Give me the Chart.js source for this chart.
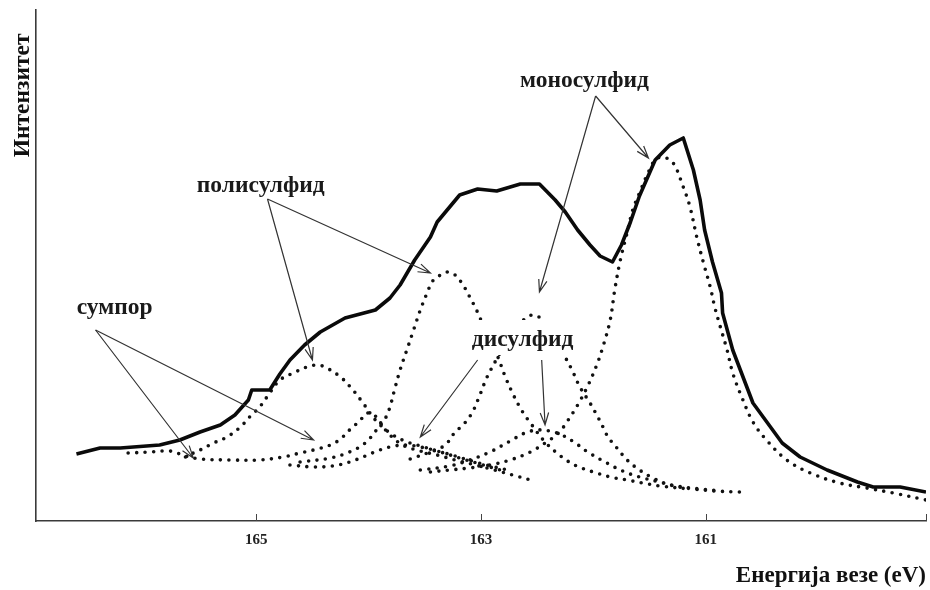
<!DOCTYPE html>
<html><head><meta charset="utf-8">
<script src="https://cdn.jsdelivr.net/npm/chart.js@4.4.0/dist/chart.umd.min.js"></script>
<style>html,body{margin:0;padding:0;background:#fff;}#wrap{width:930px;height:590px;}</style>
</head><body><div id="wrap"><canvas id="c" width="930" height="590"></canvas></div>
<script>
// Binding energy (eV) and intensity (a.u.)
const xTicks = [165, 163, 161];
const xTitle = 'Енергија везе (eV)';
const yTitle = 'Интензитет';
const totalE = [166.60,166.39,166.21,165.86,165.68,165.50,165.32,165.19,165.07,165.04,164.88,164.79,164.70,164.57,164.43,164.21,163.94,163.81,163.72,163.59,163.45,163.39,163.19,163.03,162.86,162.65,162.48,162.34,162.25,162.14,162.03,161.94,161.83,161.75,161.67,161.59,161.45,161.32,161.20,161.11,161.05,161.01,160.94,160.86,160.85,160.76,160.58,160.32,160.16,159.92,159.65,159.51,159.27,159.04];
const totalI = [67,73,73,76,81,89,96,106,121,131,131,147,161,176,189,203,211,223,236,261,284,299,326,332,330,337,337,321,309,291,276,265,259,276,299,325,361,376,383,351,321,291,259,228,208,171,118,78,64,51,39,34,34,29];

const mono32E = [163.45,163.28,163.10,162.92,162.74,162.56,162.43,162.31,162.23,162.14,162.05,161.97,161.91,161.85,161.81,161.76,161.70,161.65,161.59,161.51,161.45,161.38,161.29,161.20,161.14,161.08,161.02,160.96,160.92,160.87,160.81,160.76,160.68,160.58,160.46,160.28,160.07,159.81,159.57,159.33,159.04];
const mono32I = [49,51,53,56,61,69,78,88,100,116,135,156,176,201,231,261,288,311,328,349,361,364,358,334,314,284,258,234,214,194,171,148,124,99,81,61,48,38,33,28,21];

const mono12E = [163.63,163.45,163.36,163.30,163.23,163.16,163.08,163.01,162.95,162.85,162.74,162.65,162.54,162.43,162.34,162.27,162.19,162.12,162.03,161.97,161.91,161.87,161.79,161.70,161.59,161.47,161.32,161.11,160.92,160.70];
const mono12I = [62,69,73,78,89,96,108,126,143,164,184,198,206,199,184,168,151,134,118,106,93,84,73,61,51,43,36,32,30,29];

const poly32E = [164.61,164.34,164.17,164.03,163.93,163.85,163.81,163.77,163.72,163.66,163.60,163.54,163.48,163.43,163.36,163.30,163.23,163.16,163.10,163.04,162.95,162.85,162.79,162.72,162.64,162.56,162.43,162.28,162.15,162.00,161.85,161.70,161.56,161.41,161.14];
const poly32I = [59,63,69,78,91,103,114,131,151,171,191,211,228,240,246,249,246,236,224,211,188,164,146,128,111,98,79,64,55,49,44,41,38,35,32];

const poly12E = [165.63,165.56,165.50,165.38,165.26,165.14,165.06,164.97,164.88,164.79,164.67,164.55,164.46,164.39,164.25,164.14,164.05,163.94,163.81,163.68,163.54,163.36,163.19,163.01,162.83];
const poly12I = [64,68,71,78,84,94,104,114,128,141,148,154,156,154,144,131,118,101,88,80,75,69,63,57,51];

const sulfE = [166.14,165.94,165.77,165.63,165.50,165.23,164.97,164.76,164.61,164.49,164.34,164.25,164.17,164.08,164.01,163.93,163.87,163.81,163.74,163.66,163.54,163.39,163.23,163.05,162.88,162.72,162.56];
const sulfI = [68,69,70,65,62,61,61,64,68,71,76,82,91,100,108,104,94,86,79,74,70,66,61,56,51,46,41];

const di12E = [164.70,164.49,164.32,164.17,164.03,163.90,163.77,163.65,163.54,163.39,163.23,163.05,162.88,162.72];
const di12I = [56,54,55,59,65,71,75,76,74,70,65,59,54,50];

const di32E = [163.54,163.28,163.10,162.92,162.74,162.61,162.50,162.39,162.28,162.16,162.05,161.88,161.74,161.59,161.41,161.26,161.05,160.87];
const di32I = [51,55,61,69,80,88,91,90,86,78,69,58,50,44,39,35,32,30];

// annotation labels (data coordinates)
const labelText = ['моносулфид','полисулфид','сумпор','дисулфид'];
const labelE = [162.08,164.96,166.26,162.63];
const labelI = [440,335,213,181];
// arrows: from -> to (data coordinates)
const arrowFromE = [161.98,161.98,164.90,164.90,166.43,166.43,163.03,162.46];
const arrowFromI = [425,425,322,322,191,191,161,161];
const arrowToE   = [162.48,161.51,164.50,163.45,165.56,164.49,163.54,162.43];
const arrowToI   = [229,363,161,248,63,81,84,96];

const SERIF = "'Liberation Serif','Times New Roman',serif";
const toPts = (E,I) => E.map((e,i) => ({x:e, y:I[i]}));
const dotted = (E,I) => ({data:toPts(E,I), showLine:true, borderColor:'#111', borderWidth:3.6,
  borderDash:[0,8.5], borderCapStyle:'round', pointRadius:0, tension:0.35, fill:false});

const annot = {
  id:'annot',
  afterDatasetsDraw(chart){
    const {ctx, scales:{x,y}, chartArea} = chart;
    ctx.save();
    ctx.font = 'bold 23.5px ' + SERIF;
    ctx.textAlign = 'center'; ctx.textBaseline = 'middle';
    labelText.forEach((t,i)=>{
      const px = x.getPixelForValue(labelE[i]), py = y.getPixelForValue(labelI[i]);
      const w = ctx.measureText(t).width;
      ctx.fillStyle = '#fff';
      ctx.fillRect(px - w/2 - 4, py - 20, w + 8, 35);
      ctx.fillStyle = '#1a1a1a';
      ctx.fillText(t, px, py);
    });
    ctx.strokeStyle = '#333'; ctx.lineWidth = 1.2;
    arrowFromE.forEach((e,i)=>{
      const x0 = x.getPixelForValue(e), y0 = y.getPixelForValue(arrowFromI[i]);
      const x1 = x.getPixelForValue(arrowToE[i]), y1 = y.getPixelForValue(arrowToI[i]);
      const a = Math.atan2(y1-y0, x1-x0), L = 13, da = 0.33;
      ctx.beginPath(); ctx.moveTo(x0,y0); ctx.lineTo(x1,y1);
      ctx.moveTo(x1 - L*Math.cos(a-da), y1 - L*Math.sin(a-da)); ctx.lineTo(x1,y1);
      ctx.lineTo(x1 - L*Math.cos(a+da), y1 - L*Math.sin(a+da));
      ctx.stroke();
    });
    // inward tick marks
    ctx.strokeStyle = '#444'; ctx.lineWidth = 1;
    const b = y.getPixelForValue(0);
    xTicks.concat([x.min]).forEach(v=>{
      const px = Math.round(x.getPixelForValue(v)) + 0.5;
      ctx.beginPath(); ctx.moveTo(px, b); ctx.lineTo(px, b-7); ctx.stroke();
    });
    // x-axis title, right aligned under the axis
    ctx.font = 'bold 23px ' + SERIF;
    ctx.fillStyle = '#111'; ctx.textAlign = 'right'; ctx.textBaseline = 'middle';
    ctx.fillText(xTitle, chartArea.right, x.bottom - 14);
    ctx.restore();
  }
};

new Chart(document.getElementById('c'), {
  type:'scatter',
  data:{datasets:[
    {data:toPts(totalE,totalI), showLine:true, borderColor:'#0a0a0a', borderWidth:3.6, pointRadius:0, tension:0, borderJoinStyle:'round', fill:false},
    dotted(mono32E,mono32I), dotted(mono12E,mono12I),
    dotted(poly32E,poly32I), dotted(poly12E,poly12I),
    dotted(sulfE,sulfI), dotted(di12E,di12I), dotted(di32E,di32I)
  ]},
  options:{
    responsive:false, animation:false, devicePixelRatio:1,
    layout:{padding:{left:0, top:10, right:4, bottom:0}},
    plugins:{legend:{display:false}, tooltip:{enabled:false}},
    scales:{
      x:{type:'linear', reverse:true, min:159.04, max:166.96,
        afterBuildTicks(s){ s.ticks = xTicks.map(v=>({value:v})); },
        afterFit(s){ s.height = 69; },
        grid:{display:false, drawTicks:false},
        border:{display:true, color:'#3a3a3a', width:1.6},
        ticks:{padding:10, color:'#222', font:{family:SERIF, size:15, weight:'bold'}},
        title:{display:false}
      },
      y:{type:'linear', min:0, max:511,
        afterFit(s){ s.width = 36; },
        grid:{display:false, drawTicks:false},
        border:{display:true, color:'#3a3a3a', width:1.6},
        ticks:{display:false},
        title:{display:true, text:yTitle + '    ', align:'end', color:'#111',
          font:{family:SERIF, size:23.5, weight:'bold'}, padding:{top:9,bottom:0}}
      }
    }
  },
  plugins:[annot]
});
</script></body></html>
